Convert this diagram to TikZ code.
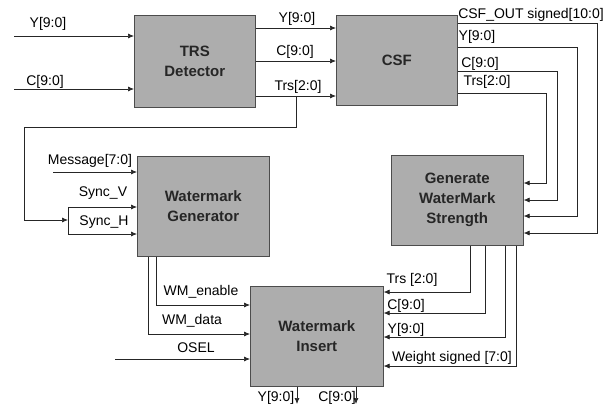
\documentclass[tikz,border=0pt]{standalone}
\usepackage{fontspec}
\setmainfont{Liberation Sans}
\usetikzlibrary{arrows.meta}
\begin{document}
\begin{tikzpicture}[x=1pt,y=-1pt,
  blk/.style={draw=black!70, line width=0.6pt, fill=black!32, align=center,
    font=\fontsize{15}{20}\selectfont\bfseries, text=black!85, inner sep=0pt, anchor=north west},
  wire/.style={draw=black!85, line width=0.7pt},
  arr/.style={wire, -{Latex[length=6pt,width=5pt]}},
  lbl/.style={font=\fontsize{14}{16}\selectfont, inner sep=0pt}]
\fill[white] (0,0) rectangle (609,405);
\useasboundingbox (0,0) rectangle (609,405);

% blocks
\node[blk, minimum width=121pt, minimum height=92pt] (trs) at (134,15) {TRS\\Detector};
\node[blk, minimum width=121pt, minimum height=90pt] (csf) at (336,15) {CSF};
\node[blk, minimum width=132pt, minimum height=100pt] (wmg) at (137,156) {Watermark\\Generator};
\node[blk, minimum width=132pt, minimum height=90pt] (gen) at (391,155) {Generate\\WaterMark\\Strength};
\node[blk, minimum width=133pt, minimum height=100pt] (ins) at (250,286) {Watermark\\Insert};

% free ends
\coordinate (yin) at (14,36);
\coordinate (cin) at (14,89);
\coordinate (msg) at (53,172);
\coordinate (osel) at (115,359);
\coordinate (brk) at (68,220);
\coordinate (yout) at (297,404);
\coordinate (cout) at (356,404);

% TRS inputs
\draw[arr] (yin) -- (yin -| trs.west);
\draw[arr] (cin) -- (cin -| trs.west);
\node[lbl] at (48,24) {Y[9:0]};
\node[lbl] at (45,82) {C[9:0]};

% TRS -> CSF
\draw[arr] (trs.east |- 0,28) -- (csf.west |- 0,28);
\draw[arr] (trs.east |- 0,61) -- (csf.west |- 0,61);
\draw[arr] (trs.east |- 0,96) -- (csf.west |- 0,96);
\node[lbl] at (297,19) {Y[9:0]};
\node[lbl] at (295,52) {C[9:0]};
\node[lbl] at (298,87) {Trs[2:0]};

% Trs branch to Watermark Generator
\draw[arr] (296,96) -- (296,127) -- (24,127) -- (24,220) -- (brk);
\draw[wire] (68,207) -- (68,234);
\draw[arr] (68,207) -- (68,207 -| wmg.west);
\draw[arr] (68,234) -- (68,234 -| wmg.west);
\draw[arr] (msg) -- (msg -| wmg.west);
\node[lbl] at (90,161) {Message[7:0]};
\node[lbl] at (103,193) {Sync\_V};
\node[lbl] at (104,222) {Sync\_H};

% CSF -> Generate
\draw[arr] (csf.east |- 0,23) -- (597,23) -- (597,233) -- (gen.east |- 0,233);
\draw[arr] (csf.east |- 0,47) -- (577,47) -- (577,216) -- (gen.east |- 0,216);
\draw[arr] (csf.east |- 0,71) -- (557,71) -- (557,200) -- (gen.east |- 0,200);
\draw[arr] (csf.east |- 0,93) -- (546,93) -- (546,183) -- (gen.east |- 0,183);
\node[lbl] at (531,15) {CSF\_OUT signed[10:0]};
\node[lbl] at (477,37) {Y[9:0]};
\node[lbl] at (480,64) {C[9:0]};
\node[lbl] at (487,82) {Trs[2:0]};

% Generator -> Insert
\draw[arr] (wmg.south -| 156,0) -- (156,305) -- (ins.west |- 0,305);
\draw[arr] (wmg.south -| 148,0) -- (148,334) -- (ins.west |- 0,334);
\draw[arr] (osel) -- (osel -| ins.west);
\node[lbl] at (201,292) {WM\_enable};
\node[lbl] at (192,321) {WM\_data};
\node[lbl] at (196,348) {OSEL};

% Generate -> Insert
\draw[arr] (gen.south -| 470,0) -- (470,292) -- (ins.east |- 0,292);
\draw[arr] (gen.south -| 485,0) -- (485,313) -- (ins.east |- 0,313);
\draw[arr] (gen.south -| 505,0) -- (505,337) -- (ins.east |- 0,337);
\draw[arr] (gen.south -| 516,0) -- (516,366) -- (ins.east |- 0,366);
\node[lbl] at (412,280) {Trs [2:0]};
\node[lbl] at (406,306) {C[9:0]};
\node[lbl] at (406,330) {Y[9:0]};
\node[lbl] at (452,358) {Weight signed [7:0]};

% outputs
\draw[arr] (ins.south -| yout) -- (yout);
\draw[arr] (ins.south -| cout) -- (cout);
\node[lbl] at (276,398) {Y[9:0]};
\node[lbl] at (337,398) {C[9:0]};
\end{tikzpicture}
\end{document}
